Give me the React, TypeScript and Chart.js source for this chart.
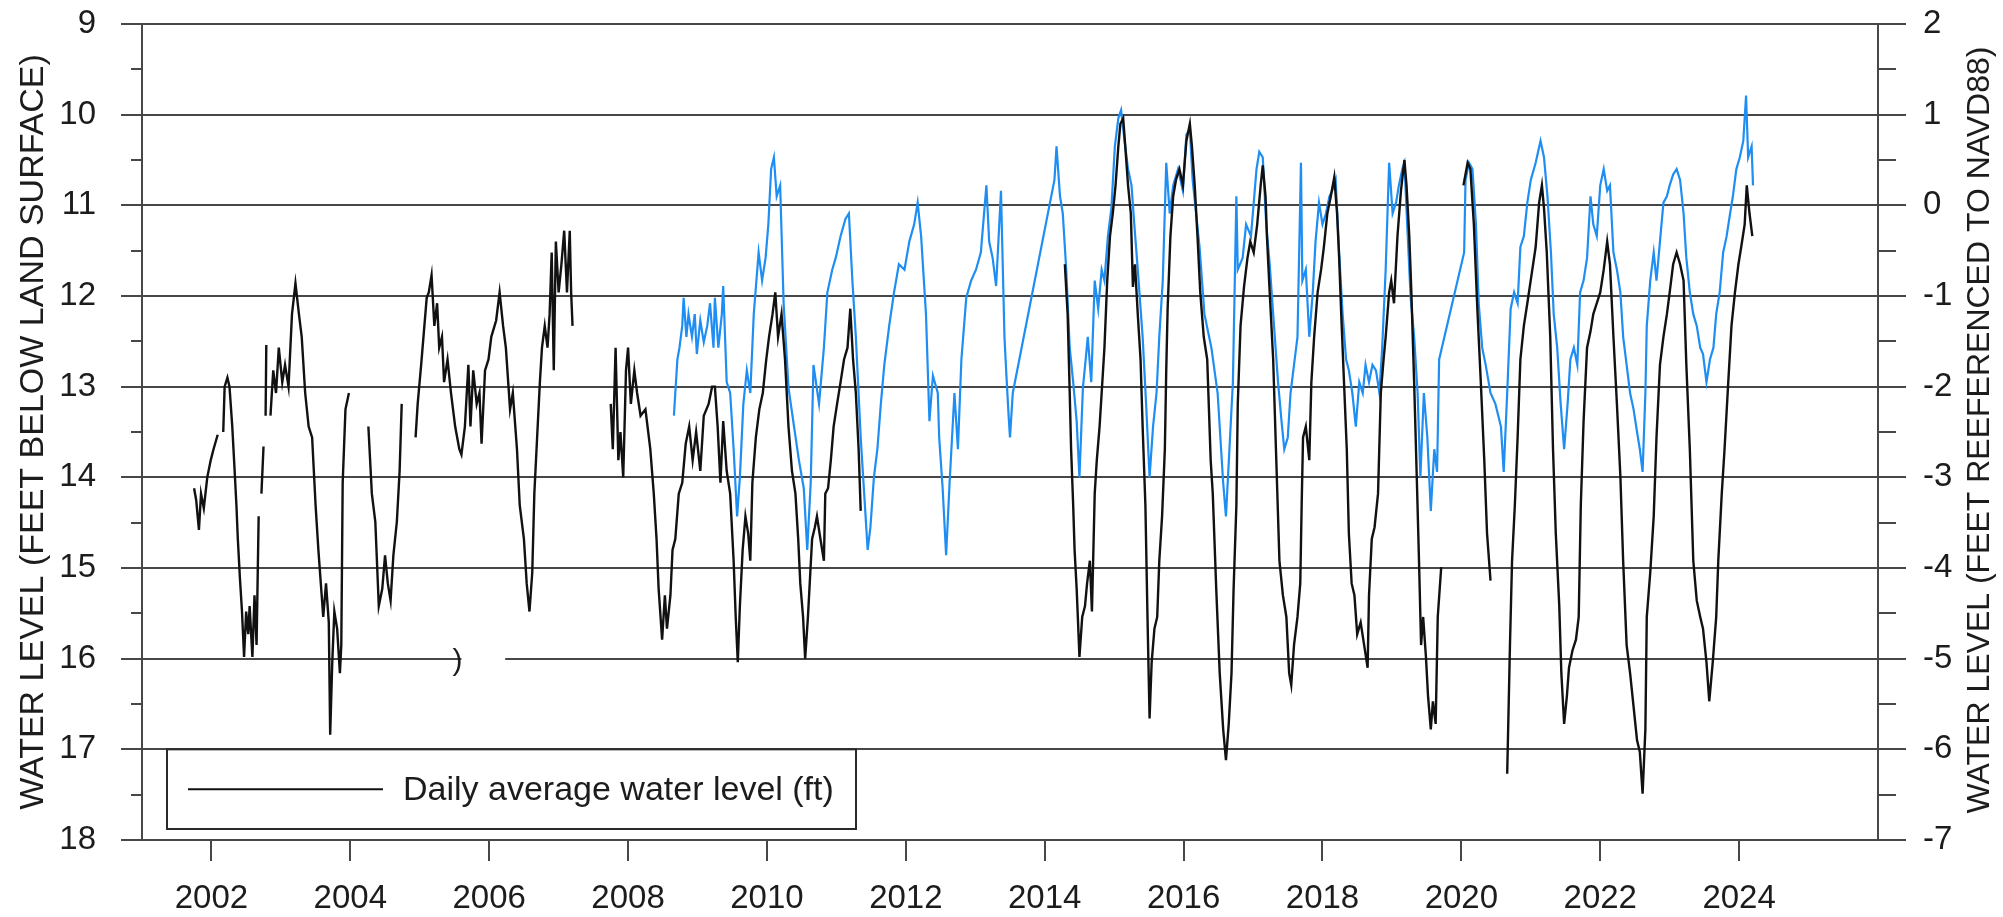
import { useEffect, useRef } from "react";
import { Chart, registerables } from "chart.js";

Chart.register(...registerables);

// ---- axis ranges, ticks and text ----
const YEAR_RANGE: [number, number] = [2001, 2026];
const YEAR_TICKS = [2002, 2004, 2006, 2008, 2010, 2012, 2014, 2016, 2018, 2020, 2022, 2024];
const DEPTH_RANGE: [number, number] = [9, 18];
const NAVD_RANGE: [number, number] = [-7, 2];

const LEFT_TITLE = "WATER LEVEL (FEET BELOW LAND SURFACE)";
const RIGHT_TITLE = "WATER LEVEL (FEET REEFERENCED TO NAVD88)";
const SERIES_LABEL = "Daily average water level (ft)";

// ---- daily average depth to water, feet below land surface (null = break in record) ----
const depthRecord: [number, number | null][] = [
  [2001.75, 14.12], [2001.78, 14.25], [2001.82, 14.58], [2001.85, 14.18], [2001.89, 14.34],
  [2001.94, 14.0], [2001.99, 13.81], [2002.03, 13.69], [2002.09, 13.53], [2002.13, null],
  [2002.17, 13.5], [2002.19, 13.0], [2002.23, 12.9], [2002.26, 13.0], [2002.3, 13.44],
  [2002.33, 13.87], [2002.36, 14.31], [2002.38, 14.68], [2002.41, 15.11], [2002.44, 15.48],
  [2002.47, 15.98], [2002.5, 15.48], [2002.53, 15.73], [2002.55, 15.42], [2002.59, 15.98],
  [2002.62, 15.3], [2002.65, 15.85], [2002.68, 14.43], [2002.7, null], [2002.72, 14.18],
  [2002.75, 13.66], [2002.765, null], [2002.78, 13.32], [2002.79, 12.54], [2002.82, null],
  [2002.85, 13.32], [2002.89, 12.82], [2002.93, 13.07], [2002.97, 12.57], [2003.02, 12.95],
  [2003.06, 12.76], [2003.11, 13.0], [2003.16, 12.2], [2003.21, 11.86], [2003.26, 12.2],
  [2003.3, 12.45], [2003.35, 13.07], [2003.4, 13.44], [2003.45, 13.56], [2003.5, 14.31],
  [2003.54, 14.8], [2003.61, 15.54], [2003.65, 15.17], [2003.69, 15.6], [2003.71, 16.84],
  [2003.74, 16.04], [2003.77, 15.48], [2003.81, 15.67], [2003.85, 16.16], [2003.87, 15.85],
  [2003.89, 14.06], [2003.93, 13.25], [2003.98, 13.07], [2004.1, null],
  [2004.26, 13.44], [2004.31, 14.18], [2004.36, 14.49], [2004.41, 15.42], [2004.46, 15.23],
  [2004.5, 14.86], [2004.54, 15.17], [2004.58, 15.36], [2004.62, 14.86], [2004.67, 14.49],
  [2004.71, 13.93], [2004.74, 13.19], [2004.85, null],
  [2004.94, 13.56], [2004.97, 13.19], [2005.02, 12.76], [2005.06, 12.39], [2005.1, 12.02],
  [2005.13, 11.96], [2005.17, 11.77], [2005.21, 12.33], [2005.25, 12.08], [2005.28, 12.57],
  [2005.32, 12.45], [2005.35, 12.95], [2005.4, 12.7], [2005.45, 13.07], [2005.51, 13.44],
  [2005.57, 13.69], [2005.6, 13.75], [2005.65, 13.44], [2005.7, 12.76], [2005.73, 13.44],
  [2005.77, 12.82], [2005.82, 13.19], [2005.86, 13.07], [2005.89, 13.63], [2005.94, 12.82],
  [2005.99, 12.7], [2006.03, 12.45], [2006.1, 12.27], [2006.15, 11.96], [2006.2, 12.33],
  [2006.24, 12.57], [2006.3, 13.25], [2006.34, 13.07], [2006.4, 13.69], [2006.44, 14.31],
  [2006.5, 14.68], [2006.54, 15.17], [2006.58, 15.48], [2006.62, 15.05], [2006.65, 14.18],
  [2006.69, 13.56], [2006.73, 12.95], [2006.76, 12.57], [2006.8, 12.33], [2006.84, 12.57],
  [2006.87, 12.2], [2006.9, 11.52], [2006.93, 12.82], [2006.96, 11.4], [2007.0, 11.96],
  [2007.04, 11.65], [2007.08, 11.28], [2007.12, 11.96], [2007.16, 11.28], [2007.18, 11.96],
  [2007.2, 12.33], [2007.5, null],
  [2007.75, 13.19], [2007.78, 13.69], [2007.82, 12.57], [2007.86, 13.81], [2007.89, 13.5],
  [2007.93, 14.0], [2007.97, 12.82], [2008.0, 12.57], [2008.04, 13.19], [2008.09, 12.82],
  [2008.13, 13.07], [2008.18, 13.32], [2008.25, 13.25], [2008.32, 13.69], [2008.37, 14.18],
  [2008.41, 14.68], [2008.44, 15.23], [2008.49, 15.79], [2008.53, 15.3], [2008.56, 15.67],
  [2008.61, 15.3], [2008.64, 14.8], [2008.68, 14.68], [2008.73, 14.18], [2008.78, 14.06],
  [2008.83, 13.63], [2008.88, 13.44], [2008.93, 13.81], [2008.98, 13.5], [2009.04, 13.93],
  [2009.09, 13.32], [2009.16, 13.19], [2009.21, 13.0], [2009.25, 13.0], [2009.29, 13.44],
  [2009.33, 14.06], [2009.37, 13.38], [2009.42, 13.93], [2009.47, 14.18], [2009.52, 14.92],
  [2009.55, 15.54], [2009.58, 16.04], [2009.61, 15.42], [2009.65, 14.8], [2009.69, 14.43],
  [2009.73, 14.62], [2009.76, 14.92], [2009.79, 14.06], [2009.84, 13.56], [2009.89, 13.25],
  [2009.94, 13.07], [2009.99, 12.7], [2010.03, 12.45], [2010.08, 12.2], [2010.12, 11.96],
  [2010.16, 12.45], [2010.21, 12.2], [2010.26, 12.7], [2010.31, 13.44], [2010.36, 13.93],
  [2010.41, 14.18], [2010.45, 14.68], [2010.48, 15.17], [2010.52, 15.54], [2010.55, 16.0],
  [2010.59, 15.54], [2010.62, 15.11], [2010.65, 14.68], [2010.69, 14.55], [2010.72, 14.43],
  [2010.77, 14.68], [2010.82, 14.92], [2010.84, 14.18], [2010.88, 14.12], [2010.92, 13.81],
  [2010.96, 13.44], [2011.01, 13.19], [2011.06, 12.95], [2011.11, 12.7], [2011.16, 12.57],
  [2011.2, 12.14], [2011.24, 12.7], [2011.28, 13.07], [2011.32, 13.69], [2011.35, 14.37],
  [2012.8, null],
  [2014.29, 11.65], [2014.33, 12.2], [2014.36, 13.07], [2014.38, 13.69], [2014.41, 14.31],
  [2014.43, 14.8], [2014.46, 15.23], [2014.48, 15.6], [2014.5, 15.98], [2014.54, 15.54],
  [2014.58, 15.42], [2014.61, 15.17], [2014.65, 14.92], [2014.68, 15.48], [2014.72, 14.18],
  [2014.75, 13.81], [2014.79, 13.44], [2014.82, 13.07], [2014.86, 12.57], [2014.9, 11.83],
  [2014.94, 11.34], [2014.98, 11.09], [2015.02, 10.78], [2015.06, 10.35], [2015.09, 10.1],
  [2015.13, 10.04], [2015.16, 10.35], [2015.2, 10.78], [2015.24, 11.09], [2015.27, 11.9],
  [2015.3, 11.65], [2015.34, 12.2], [2015.38, 12.7], [2015.41, 13.44], [2015.45, 14.31],
  [2015.48, 15.54], [2015.51, 16.66], [2015.54, 16.04], [2015.58, 15.67], [2015.62, 15.54],
  [2015.65, 14.92], [2015.69, 14.43], [2015.73, 13.69], [2015.75, 12.82], [2015.77, 12.14],
  [2015.81, 11.34], [2015.85, 10.9], [2015.89, 10.72], [2015.94, 10.6], [2015.99, 10.78],
  [2016.04, 10.29], [2016.09, 10.1], [2016.12, 10.35], [2016.16, 10.78], [2016.2, 11.34],
  [2016.24, 11.96], [2016.29, 12.45], [2016.34, 12.7], [2016.39, 13.81], [2016.42, 14.18],
  [2016.47, 15.23], [2016.52, 16.16], [2016.57, 16.78], [2016.61, 17.12], [2016.65, 16.72],
  [2016.69, 16.16], [2016.72, 15.23], [2016.76, 14.31], [2016.78, 13.19], [2016.82, 12.33],
  [2016.87, 11.9], [2016.92, 11.58], [2016.96, 11.4], [2017.01, 11.52], [2017.06, 11.21],
  [2017.11, 10.78], [2017.14, 10.56], [2017.18, 10.9], [2017.2, 11.34], [2017.24, 11.96],
  [2017.29, 12.7], [2017.33, 13.69], [2017.38, 14.92], [2017.43, 15.3], [2017.48, 15.54],
  [2017.52, 16.16], [2017.55, 16.29], [2017.59, 15.85], [2017.64, 15.54], [2017.68, 15.17],
  [2017.7, 14.31], [2017.72, 13.56], [2017.76, 13.44], [2017.81, 13.81], [2017.84, 12.95],
  [2017.88, 12.45], [2017.93, 11.96], [2017.98, 11.71], [2018.02, 11.46], [2018.07, 11.09],
  [2018.12, 10.9], [2018.17, 10.69], [2018.21, 11.09], [2018.24, 11.58], [2018.27, 12.2],
  [2018.31, 12.95], [2018.35, 13.69], [2018.38, 14.62], [2018.42, 15.17], [2018.46, 15.3],
  [2018.5, 15.73], [2018.55, 15.6], [2018.6, 15.85], [2018.65, 16.1], [2018.67, 15.3],
  [2018.71, 14.68], [2018.75, 14.55], [2018.8, 14.18], [2018.84, 13.07], [2018.88, 12.7],
  [2018.91, 12.45], [2018.96, 11.96], [2018.99, 11.83], [2019.03, 12.08], [2019.08, 11.34],
  [2019.13, 10.84], [2019.18, 10.5], [2019.21, 10.78], [2019.25, 11.34], [2019.28, 11.96],
  [2019.32, 12.95], [2019.36, 14.06], [2019.39, 14.92], [2019.42, 15.85], [2019.45, 15.54],
  [2019.49, 15.98], [2019.52, 16.41], [2019.56, 16.78], [2019.59, 16.47], [2019.63, 16.72],
  [2019.66, 15.54], [2019.71, 14.99], [2019.85, null],
  [2020.03, 10.78], [2020.09, 10.53], [2020.13, 10.6], [2020.18, 11.21], [2020.23, 12.14],
  [2020.28, 12.95], [2020.33, 13.81], [2020.37, 14.62], [2020.42, 15.14], [2020.55, null],
  [2020.66, 17.27], [2020.7, 15.85], [2020.73, 14.92], [2020.77, 14.31], [2020.81, 13.56],
  [2020.85, 12.7], [2020.9, 12.33], [2020.95, 12.08], [2021.01, 11.77], [2021.07, 11.46],
  [2021.12, 10.97], [2021.16, 10.78], [2021.19, 11.03], [2021.23, 11.52], [2021.28, 12.45],
  [2021.32, 13.69], [2021.36, 14.62], [2021.41, 15.42], [2021.44, 16.16], [2021.48, 16.72],
  [2021.52, 16.41], [2021.55, 16.1], [2021.6, 15.91], [2021.65, 15.79], [2021.69, 15.54],
  [2021.72, 14.31], [2021.76, 13.38], [2021.81, 12.57], [2021.86, 12.39], [2021.9, 12.2],
  [2021.95, 12.08], [2022.0, 11.96], [2022.05, 11.71], [2022.1, 11.4], [2022.14, 11.65],
  [2022.19, 12.45], [2022.24, 13.19], [2022.29, 13.99], [2022.33, 14.92], [2022.38, 15.85],
  [2022.43, 16.16], [2022.48, 16.53], [2022.53, 16.9], [2022.57, 17.03], [2022.61, 17.49],
  [2022.65, 16.78], [2022.67, 15.54], [2022.72, 15.05], [2022.77, 14.43], [2022.81, 13.56],
  [2022.86, 12.76], [2022.91, 12.45], [2022.96, 12.2], [2023.0, 11.96], [2023.05, 11.65],
  [2023.1, 11.52], [2023.15, 11.65], [2023.2, 11.83], [2023.24, 12.76], [2023.29, 13.69],
  [2023.34, 14.92], [2023.39, 15.36], [2023.44, 15.54], [2023.48, 15.67], [2023.53, 16.04],
  [2023.57, 16.47], [2023.62, 16.04], [2023.67, 15.54], [2023.7, 14.92], [2023.75, 14.18],
  [2023.79, 13.69], [2023.84, 13.0], [2023.89, 12.33], [2023.94, 11.96], [2023.99, 11.65],
  [2024.03, 11.46], [2024.08, 11.21], [2024.11, 10.78], [2024.15, 11.09], [2024.19, 11.34],
];

// ---- water level referenced to NAVD88, feet ----
const navdRecord: [number, number][] = [
  [2008.66, -2.32], [2008.68, -2.07], [2008.71, -1.7], [2008.74, -1.57], [2008.78, -1.33],
  [2008.8, -1.02], [2008.84, -1.45], [2008.87, -1.2], [2008.92, -1.45], [2008.96, -1.2],
  [2008.99, -1.64], [2009.04, -1.27], [2009.09, -1.51], [2009.14, -1.33], [2009.18, -1.08],
  [2009.23, -1.57], [2009.25, -1.02], [2009.3, -1.57], [2009.35, -1.2], [2009.37, -0.89],
  [2009.42, -1.95], [2009.47, -2.07], [2009.52, -2.69], [2009.57, -3.43], [2009.61, -3.0],
  [2009.66, -2.19], [2009.71, -1.82], [2009.76, -2.07], [2009.81, -1.2], [2009.88, -0.52],
  [2009.93, -0.83], [2009.98, -0.58], [2010.02, -0.21], [2010.06, 0.4], [2010.1, 0.53],
  [2010.14, 0.1], [2010.19, 0.22], [2010.24, -1.08], [2010.31, -2.01], [2010.39, -2.44],
  [2010.46, -2.81], [2010.53, -3.12], [2010.58, -3.8], [2010.63, -3.06], [2010.67, -1.76],
  [2010.75, -2.19], [2010.82, -1.57], [2010.87, -0.96], [2010.94, -0.71], [2010.99, -0.58],
  [2011.06, -0.34], [2011.13, -0.15], [2011.18, -0.09], [2011.23, -0.83], [2011.28, -1.45],
  [2011.35, -2.56], [2011.4, -3.18], [2011.45, -3.8], [2011.49, -3.55], [2011.54, -3.0],
  [2011.59, -2.69], [2011.64, -2.19], [2011.69, -1.76], [2011.76, -1.33], [2011.83, -0.96],
  [2011.9, -0.65], [2011.98, -0.71], [2012.05, -0.4], [2012.12, -0.21], [2012.17, 0.03],
  [2012.22, -0.34], [2012.29, -1.2], [2012.34, -2.38], [2012.39, -1.88], [2012.46, -2.07],
  [2012.48, -2.56], [2012.53, -3.12], [2012.58, -3.86], [2012.63, -3.06], [2012.7, -2.07],
  [2012.75, -2.69], [2012.8, -1.7], [2012.87, -1.02], [2012.94, -0.83], [2013.01, -0.71],
  [2013.08, -0.52], [2013.16, 0.22], [2013.2, -0.4], [2013.25, -0.58], [2013.3, -0.89],
  [2013.37, 0.16], [2013.42, -1.45], [2013.45, -1.9], [2013.48, -2.32], [2013.5, -2.56],
  [2013.54, -2.07], [2014.14, 0.28], [2014.17, 0.65], [2014.22, 0.1], [2014.26, -0.09],
  [2014.31, -0.71], [2014.36, -1.57], [2014.41, -1.95], [2014.46, -2.38], [2014.5, -3.0],
  [2014.55, -2.01], [2014.59, -1.7], [2014.62, -1.45], [2014.67, -1.95], [2014.72, -0.83],
  [2014.77, -1.14], [2014.82, -0.71], [2014.86, -0.83], [2014.91, -0.34], [2014.96, -0.03],
  [2015.01, 0.65], [2015.06, 0.96], [2015.1, 1.05], [2015.15, 0.71], [2015.2, 0.4],
  [2015.25, 0.22], [2015.29, -0.21], [2015.34, -0.71], [2015.41, -1.45], [2015.46, -2.19],
  [2015.51, -3.0], [2015.56, -2.44], [2015.61, -2.07], [2015.65, -1.45], [2015.7, -0.83],
  [2015.75, 0.47], [2015.8, -0.09], [2015.85, 0.22], [2015.92, 0.4], [2015.99, 0.16],
  [2016.04, 0.78], [2016.09, 0.84], [2016.13, 0.28], [2016.18, -0.09], [2016.23, -0.46],
  [2016.3, -1.2], [2016.4, -1.57], [2016.49, -2.07], [2016.57, -3.06], [2016.61, -3.43],
  [2016.66, -2.69], [2016.71, -1.95], [2016.76, 0.1], [2016.78, -0.71], [2016.85, -0.58],
  [2016.9, -0.21], [2016.97, -0.34], [2017.05, 0.4], [2017.09, 0.59], [2017.14, 0.53],
  [2017.19, -0.21], [2017.24, -0.65], [2017.29, -1.2], [2017.36, -1.95], [2017.41, -2.38],
  [2017.45, -2.69], [2017.5, -2.56], [2017.54, -2.07], [2017.59, -1.76], [2017.64, -1.45],
  [2017.69, 0.47], [2017.71, -0.83], [2017.76, -0.71], [2017.81, -1.45], [2017.86, -0.96],
  [2017.9, -0.4], [2017.95, 0.03], [2018.0, -0.21], [2018.05, -0.09], [2018.1, 0.1],
  [2018.14, 0.16], [2018.19, 0.28], [2018.24, -0.52], [2018.29, -1.2], [2018.34, -1.7],
  [2018.38, -1.82], [2018.43, -2.07], [2018.48, -2.44], [2018.53, -1.95], [2018.58, -2.07],
  [2018.62, -1.76], [2018.67, -1.95], [2018.72, -1.76], [2018.77, -1.82], [2018.82, -2.07],
  [2018.86, -1.57], [2018.91, -0.71], [2018.96, 0.47], [2019.01, -0.09], [2019.06, 0.03],
  [2019.1, 0.22], [2019.15, 0.4], [2019.18, 0.47], [2019.22, -0.21], [2019.27, -1.02],
  [2019.32, -1.45], [2019.37, -2.07], [2019.41, -3.0], [2019.46, -2.07], [2019.51, -2.56],
  [2019.56, -3.37], [2019.61, -2.69], [2019.65, -2.94], [2019.68, -1.7], [2020.04, -0.52],
  [2020.06, 0.28], [2020.11, 0.47], [2020.16, 0.4], [2020.21, -0.21], [2020.25, -1.08],
  [2020.3, -1.57], [2020.35, -1.76], [2020.42, -2.07], [2020.49, -2.19], [2020.57, -2.44],
  [2020.61, -2.94], [2020.66, -2.07], [2020.71, -1.14], [2020.76, -0.96], [2020.81, -1.08],
  [2020.85, -0.46], [2020.9, -0.34], [2020.95, 0.03], [2021.0, 0.28], [2021.07, 0.47],
  [2021.14, 0.71], [2021.19, 0.53], [2021.24, 0.1], [2021.29, -0.52], [2021.33, -1.2],
  [2021.38, -1.57], [2021.43, -2.19], [2021.48, -2.69], [2021.53, -2.19], [2021.57, -1.7],
  [2021.62, -1.57], [2021.67, -1.76], [2021.71, -0.96], [2021.76, -0.83], [2021.81, -0.58],
  [2021.86, 0.1], [2021.9, -0.21], [2021.95, -0.34], [2022.0, 0.22], [2022.05, 0.4],
  [2022.1, 0.16], [2022.14, 0.22], [2022.19, -0.52], [2022.24, -0.71], [2022.29, -0.96],
  [2022.33, -1.45], [2022.38, -1.76], [2022.43, -2.07], [2022.48, -2.25], [2022.53, -2.5],
  [2022.57, -2.69], [2022.61, -2.94], [2022.65, -2.07], [2022.67, -1.33], [2022.72, -0.83],
  [2022.77, -0.52], [2022.81, -0.83], [2022.86, -0.4], [2022.91, 0.03], [2022.96, 0.1],
  [2023.0, 0.22], [2023.05, 0.34], [2023.1, 0.4], [2023.15, 0.28], [2023.2, -0.09],
  [2023.24, -0.58], [2023.29, -0.96], [2023.34, -1.2], [2023.39, -1.33], [2023.44, -1.57],
  [2023.48, -1.64], [2023.53, -1.95], [2023.58, -1.7], [2023.63, -1.57], [2023.67, -1.2],
  [2023.72, -0.96], [2023.77, -0.52], [2023.82, -0.34], [2023.87, -0.09], [2023.91, 0.1],
  [2023.96, 0.4], [2024.01, 0.53], [2024.06, 0.71], [2024.1, 1.21], [2024.13, 0.53],
  [2024.18, 0.65], [2024.2, 0.22],
];

// ---- styling ----
const FONT = '"Liberation Sans", Arial, Helvetica, sans-serif';
const INK = "#1c1c1c";
const GRID = "#474747";
const DEPTH_COLOR = "#111111";
const NAVD_COLOR = "#1f8ef3";

// outward tick marks on both vertical axes: long ones at whole feet, short ones half-way
const LEFT_MAJOR = 21;
const LEFT_MINOR = 11;
const RIGHT_MAJOR = 28;
const RIGHT_MINOR = 18;

const axisTicks = {
  id: "axisTicks",
  afterDraw(chart: any) {
    const { ctx, chartArea, scales } = chart;
    const y = scales.y;
    ctx.save();
    ctx.strokeStyle = GRID;
    ctx.lineWidth = 2;
    for (let v = DEPTH_RANGE[0]; v <= DEPTH_RANGE[1]; v += 0.5) {
      const whole = Number.isInteger(v);
      const py = Math.round(y.getPixelForValue(v));
      ctx.beginPath();
      ctx.moveTo(chartArea.left - (whole ? LEFT_MAJOR : LEFT_MINOR), py);
      ctx.lineTo(chartArea.left, py);
      ctx.moveTo(chartArea.right, py);
      ctx.lineTo(chartArea.right + (whole ? RIGHT_MAJOR : RIGHT_MINOR), py);
      ctx.stroke();
    }
    ctx.restore();
  },
};

// the 16-ft grid line is interrupted by a stray ")" mark
const gridBreak = {
  id: "gridBreak",
  beforeDatasetsDraw(chart: any) {
    const { ctx, scales } = chart;
    const x0 = scales.x.getPixelForValue(2005.6);
    const x1 = scales.x.getPixelForValue(2006.23);
    const py = scales.y.getPixelForValue(16);
    ctx.save();
    ctx.fillStyle = "#ffffff";
    ctx.fillRect(x0, py - 3, x1 - x0, 6);
    ctx.fillStyle = INK;
    ctx.font = `30px ${FONT}`;
    ctx.textAlign = "center";
    ctx.textBaseline = "alphabetic";
    ctx.fillText(")", x0 - 4, py + 11);
    ctx.restore();
  },
};

// boxed legend in the lower-left corner of the plot
const boxedLegend = {
  id: "boxedLegend",
  afterDatasetsDraw(chart: any) {
    const { ctx, chartArea, scales } = chart;
    const ds = chart.data.datasets[0];
    const left = chartArea.left + 25;
    const top = scales.y.getPixelForValue(17);
    const right = left + 689;
    const bottom = chartArea.bottom - 11;
    const mid = (top + bottom) / 2;
    ctx.save();
    ctx.fillStyle = "#ffffff";
    ctx.fillRect(left, top, right - left, bottom - top);
    ctx.strokeStyle = "#2a2a2a";
    ctx.lineWidth = 2;
    ctx.strokeRect(left, top, right - left, bottom - top);
    ctx.strokeStyle = ds.borderColor;
    ctx.lineWidth = 2;
    ctx.beginPath();
    ctx.moveTo(left + 21, mid);
    ctx.lineTo(left + 216, mid);
    ctx.stroke();
    ctx.fillStyle = INK;
    ctx.font = `34px ${FONT}`;
    ctx.textAlign = "left";
    ctx.textBaseline = "middle";
    ctx.fillText(ds.label, left + 236, mid + 1);
    ctx.restore();
  },
};

// right-hand axis title, reading bottom to top like the left one
const rightTitle = {
  id: "rightTitle",
  afterDraw(chart: any) {
    const { ctx, chartArea } = chart;
    ctx.save();
    ctx.translate(chart.width - 23, (chartArea.top + chartArea.bottom) / 2 - 2);
    ctx.rotate(-Math.PI / 2);
    ctx.fillStyle = INK;
    ctx.font = `32px ${FONT}`;
    ctx.textAlign = "center";
    ctx.textBaseline = "middle";
    ctx.fillText(RIGHT_TITLE, 0, 0);
    ctx.restore();
  },
};

function WaterLevelChart() {
  const canvasRef = useRef<HTMLCanvasElement | null>(null);

  useEffect(() => {
    const canvas = canvasRef.current;
    if (!canvas) return;
    Chart.defaults.font.family = FONT;

    const tickFont = { size: 33, family: FONT };

    const chart = new Chart(canvas, {
      type: "line",
      data: {
        datasets: [
          {
            label: SERIES_LABEL,
            data: depthRecord.map(([x, y]) => ({ x, y })),
            yAxisID: "y",
            borderColor: DEPTH_COLOR,
            borderWidth: 2.4,
            pointRadius: 0,
            tension: 0,
            spanGaps: false,
          },
          {
            label: "NAVD88",
            data: navdRecord.map(([x, y]) => ({ x, y })),
            yAxisID: "y2",
            borderColor: NAVD_COLOR,
            borderWidth: 2.2,
            pointRadius: 0,
            tension: 0,
          },
        ],
      },
      options: {
        responsive: false,
        animation: false,
        devicePixelRatio: 1,
        parsing: false,
        normalized: true,
        layout: { padding: { top: 24, left: 0, right: 0, bottom: 0 } },
        plugins: {
          legend: { display: false },
          tooltip: { enabled: false },
        },
        scales: {
          x: {
            type: "linear",
            min: YEAR_RANGE[0],
            max: YEAR_RANGE[1],
            afterBuildTicks: (s: any) => {
              s.ticks = YEAR_TICKS.map((value) => ({ value }));
            },
            afterFit: (s: any) => {
              s.height = 77;
            },
            grid: {
              drawOnChartArea: false,
              drawTicks: true,
              tickLength: 21,
              color: GRID,
              lineWidth: 2,
            },
            border: { display: true, color: GRID, width: 2 },
            ticks: {
              font: tickFont,
              color: INK,
              padding: 18,
              maxRotation: 0,
              autoSkip: false,
              callback: (v: any) => String(v),
            },
          },
          y: {
            type: "linear",
            position: "left",
            reverse: true,
            min: DEPTH_RANGE[0],
            max: DEPTH_RANGE[1],
            afterFit: (s: any) => {
              s.width = 142;
            },
            // tick marks themselves are drawn by axisTicks; the reserved length spaces the labels
            grid: { color: GRID, lineWidth: 2, tickLength: 46, tickColor: "rgba(0,0,0,0)" },
            border: { display: true, color: GRID, width: 2 },
            ticks: { stepSize: 1, font: tickFont, color: INK, padding: 0 },
            title: {
              display: true,
              text: LEFT_TITLE,
              color: INK,
              font: { size: 34, family: FONT },
              padding: { top: 13, bottom: 0 },
            },
          },
          y2: {
            type: "linear",
            position: "right",
            min: NAVD_RANGE[0],
            max: NAVD_RANGE[1],
            afterFit: (s: any) => {
              s.width = 125;
            },
            grid: {
              drawOnChartArea: false,
              color: GRID,
              lineWidth: 2,
              tickLength: 45,
              tickColor: "rgba(0,0,0,0)",
            },
            border: { display: true, color: GRID, width: 2 },
            ticks: { stepSize: 1, font: tickFont, color: INK, padding: 0 },
          },
        },
      } as any,
      plugins: [gridBreak, boxedLegend, axisTicks, rightTitle],
    });

    return () => chart.destroy();
  }, []);

  return <canvas ref={canvasRef} width={2003} height={917} style={{ display: "block" }} />;
}

export default function App() {
  return (
    <div
      style={{
        position: "absolute",
        left: 0,
        top: 0,
        width: 2003,
        height: 917,
        background: "#ffffff",
      }}
    >
      <WaterLevelChart />
    </div>
  );
}
